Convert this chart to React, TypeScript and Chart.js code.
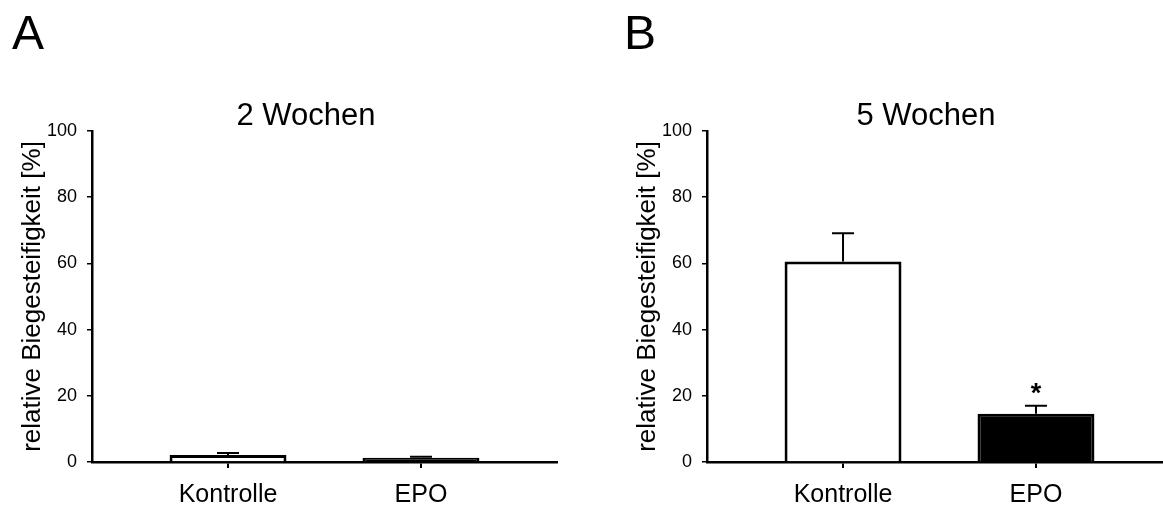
import React, { useEffect, useRef } from 'react';
import { Chart, registerables } from 'chart.js';

Chart.register(...registerables);

// ---------------- data ----------------
const categories = ['Kontrolle', 'EPO'];
const categoryPositions = [1, 2];
const yTicks = [0, 20, 40, 60, 80, 100];
const yAxisTitle = 'relative Biegesteifigkeit [%]';

const panelLetters = ['A', 'B'];
const panelTitles = ['2 Wochen', '5 Wochen'];

const means2Wochen = [2.1, 1.3];
const sem2Wochen = [0.6, 0.3];
const signif2Wochen = ['', ''];

const means5Wochen = [60.6, 14.6];
const sem5Wochen = [8.5, 2.4];
const signif5Wochen = ['', '*'];

const barColors = ['#ffffff', '#000000'];

const FONT = "'Liberation Sans', Arial, Helvetica, sans-serif";

// ---------------- plugin ----------------
const errorBarPlugin = {
  id: 'errorBars',
  afterDatasetsDraw(chart: any, _args: any, opts: any) {
    const { ctx } = chart;
    const yScale = chart.scales.y;
    const meta = chart.getDatasetMeta(0);
    const data = chart.data.datasets[0].data as any[];
    const errs: number[] = opts.errors || [];
    const marks: string[] = opts.marks || [];
    ctx.save();
    ctx.strokeStyle = '#000';
    ctx.lineWidth = 2;
    meta.data.forEach((el: any, i: number) => {
      const v = data[i].y;
      const base = yScale.getPixelForValue(v);
      const top = yScale.getPixelForValue(v + (errs[i] || 0));
      const x = el.x;
      ctx.beginPath();
      ctx.moveTo(x, base);
      ctx.lineTo(x, top);
      ctx.moveTo(x - 11, top);
      ctx.lineTo(x + 11, top);
      ctx.stroke();
      if (marks[i]) {
        ctx.fillStyle = '#000';
        ctx.font = `bold 27px ${FONT}`;
        ctx.textAlign = 'center';
        ctx.textBaseline = 'alphabetic';
        ctx.fillText(marks[i], x, top - 4);
      }
    });
    ctx.restore();
  },
};

type PanelProps = {
  left: number;
  means: number[];
  errors: number[];
  marks: string[];
};

function Panel({ left, means, errors, marks }: PanelProps) {
  const ref = useRef<HTMLCanvasElement | null>(null);
  useEffect(() => {
    if (!ref.current) return;
    const chart = new Chart(ref.current, {
      type: 'bar',
      data: {
        datasets: [
          {
            data: categoryPositions.map((x, i) => ({ x, y: means[i] })),
            backgroundColor: barColors,
            borderColor: '#000',
            borderWidth: 3,
            categoryPercentage: 1,
            barPercentage: 0.606,
          } as any,
        ],
      },
      options: {
        responsive: false,
        animation: false,
        events: [],
        layout: { padding: { top: 131, right: 55, left: 0, bottom: 0 } },
        plugins: {
          legend: { display: false },
          tooltip: { enabled: false },
          title: { display: false },
          errorBars: { errors, marks },
        } as any,
        scales: {
          x: {
            type: 'linear',
            offset: false,
            min: 1 - 0.705,
            max: 2 + 0.705,
            afterBuildTicks: (s: any) => {
              s.ticks = categoryPositions.map((v) => ({ value: v }));
            },
            afterFit: (s: any) => {
              s.height = 47;
            },
            ticks: {
              callback: (v: any) => {
                const idx = categoryPositions.indexOf(Number(v));
                return idx >= 0 ? categories[idx] : '';
              },
              font: { size: 25, family: FONT },
              color: '#000',
              padding: 12,
              autoSkip: false,
              maxRotation: 0,
            },
            grid: {
              display: true,
              offset: false,
              drawOnChartArea: false,
              drawTicks: true,
              tickLength: 6,
              color: '#000',
              lineWidth: 2,
            },
            border: { display: true, color: '#000', width: 2.5 },
          },
          y: {
            min: 0,
            max: 100,
            afterBuildTicks: (s: any) => {
              s.ticks = yTicks.map((v) => ({ value: v }));
            },
            afterFit: (s: any) => {
              s.width = 92;
            },
            ticks: {
              font: { size: 18, family: FONT },
              color: '#000',
              padding: 10,
            },
            grid: {
              display: true,
              drawOnChartArea: false,
              drawTicks: true,
              tickLength: 5,
              color: '#000',
              lineWidth: 1.5,
            },
            border: { display: true, color: '#000', width: 2.5 },
            title: {
              display: true,
              text: yAxisTitle,
              font: { size: 26, family: FONT },
              color: '#000',
              padding: { top: 17, bottom: 0 },
            },
          },
        } as any,
      },
      plugins: [errorBarPlugin as any],
    });
    return () => chart.destroy();
  }, []);
  return (
    <canvas
      ref={ref}
      width={612}
      height={509}
      style={{ position: 'absolute', left, top: 0, width: 612, height: 509, display: 'block' }}
    />
  );
}

const textBase: React.CSSProperties = {
  position: 'absolute',
  fontFamily: FONT,
  color: '#000',
  whiteSpace: 'nowrap',
};

export default function App() {
  return (
    <div
      style={{
        position: 'absolute',
        left: 0,
        top: 0,
        width: 1163,
        height: 509,
        overflow: 'hidden',
        background: '#fff',
      }}
    >
      <Panel left={0} means={means2Wochen} errors={sem2Wochen} marks={signif2Wochen} />
      <Panel left={615} means={means5Wochen} errors={sem5Wochen} marks={signif5Wochen} />
      <div style={{ ...textBase, left: 12, top: 9, fontSize: 48, lineHeight: '48px' }}>{panelLetters[0]}</div>
      <div style={{ ...textBase, left: 624, top: 9, fontSize: 48, lineHeight: '48px' }}>{panelLetters[1]}</div>
      <div
        style={{ ...textBase, left: 306 - 150, width: 300, textAlign: 'center', top: 99, fontSize: 31, lineHeight: '31px' }}
      >
        {panelTitles[0]}
      </div>
      <div
        style={{ ...textBase, left: 926 - 150, width: 300, textAlign: 'center', top: 99, fontSize: 31, lineHeight: '31px' }}
      >
        {panelTitles[1]}
      </div>
    </div>
  );
}
